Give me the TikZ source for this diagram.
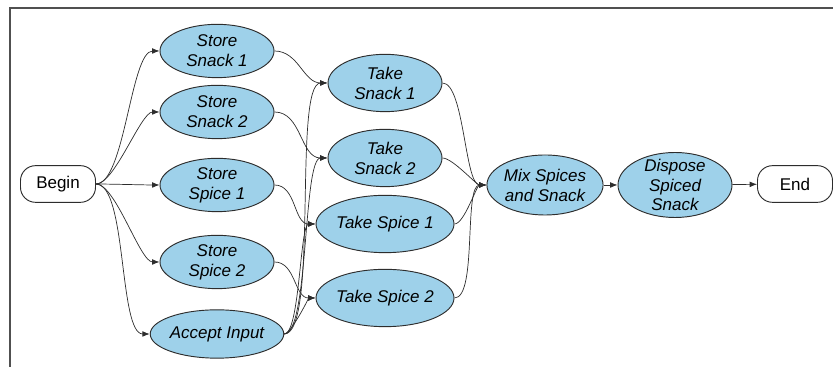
\documentclass[tikz,border=0pt]{standalone}
\usepackage{fontspec}
\setmainfont{Liberation Sans}
\usepackage{tikz}
\usetikzlibrary{arrows.meta,shapes.geometric}
\definecolor{stepblue}{RGB}{158,209,234}
\definecolor{edgegray}{RGB}{45,45,45}
\definecolor{framegray}{RGB}{80,80,80}

\begin{document}
\begin{tikzpicture}[every node/.style={font=\fontsize{14.5}{17}\selectfont},
    task/.style={ellipse,draw=edgegray,fill=stepblue,thick,minimum width=3.42cm,
      minimum height=1.6cm,inner sep=0pt,align=center,font=\fontsize{14.5}{17}\selectfont\itshape},
    term/.style={rectangle,rounded corners=0.45cm,draw=edgegray,fill=white,thick,
      minimum width=2.25cm,minimum height=1.1cm},
    flow/.style={-{Latex[length=2.2mm,width=1.7mm]},edgegray,semithick}]
        \useasboundingbox (0,0) rectangle (24.99,11.01);
        % frame
        \draw[framegray,line width=1.2pt] (24.99,10.77) -- (0.3,10.77) -- (0.3,0);

        % start and end
        \node[term] (start) at (1.74,5.49) {Begin};
        \node[term] (finish) at (23.85,5.49) {End};

        % storing column
        \node[task] (storesnk1) at (6.51,9.48) {Store\\Snack 1};
        \node[task] (storesnk2) at (6.51,7.65) {Store\\Snack 2};
        \node[task] (storespc1) at (6.51,5.46) {Store\\Spice 1};
        \node[task] (storespc2) at (6.51,3.15) {Store\\Spice 2};
        \node[task,minimum height=1.45cm] (accept) at (6.51,0.99) {Accept Input};

        % taking column
        \node[task,minimum height=1.72cm] (takesnk1) at (11.55,8.52) {Take\\Snack 1};
        \node[task,minimum height=1.72cm] (takesnk2) at (11.55,6.27) {Take\\Snack 2};
        \node[task,minimum height=1.72cm] (takespc1) at (11.55,4.29) {Take Spice 1};
        \node[task,minimum height=1.72cm] (takespc2) at (11.55,2.07) {Take Spice 2};

        % mixing and disposal
        \node[task,minimum height=1.8cm] (mix) at (16.35,5.46) {Mix Spices\\and Snack};
        \node[task,minimum height=1.95cm,inner sep=-3pt] (dispose) at (20.25,5.46) {Dispose\\Spiced\\Snack};

        % connectors
        \foreach \s in {storesnk1,storesnk2,storespc1,storespc2,accept}
          \draw[flow] (start.east) to[out=0,in=180,looseness=0.5] (\s.west);
        \foreach \s/\t in {storesnk1/takesnk1,storesnk2/takesnk2,storespc1/takespc1,storespc2/takespc2}
          \draw[flow] (\s.east) to[out=0,in=180] (\t.west);
        \foreach \t in {takesnk1,takesnk2,takespc1,takespc2} {
          \draw[flow] (accept.east) to[out=0,in=180,looseness=0.35] (\t.west);
          \draw[flow] (\t.east) to[out=0,in=180,looseness=0.5] (mix.west);
        }
        \draw[flow] (mix) -- (dispose);
        \draw[flow] (dispose) -- (finish);
      \end{tikzpicture}
\end{document}
